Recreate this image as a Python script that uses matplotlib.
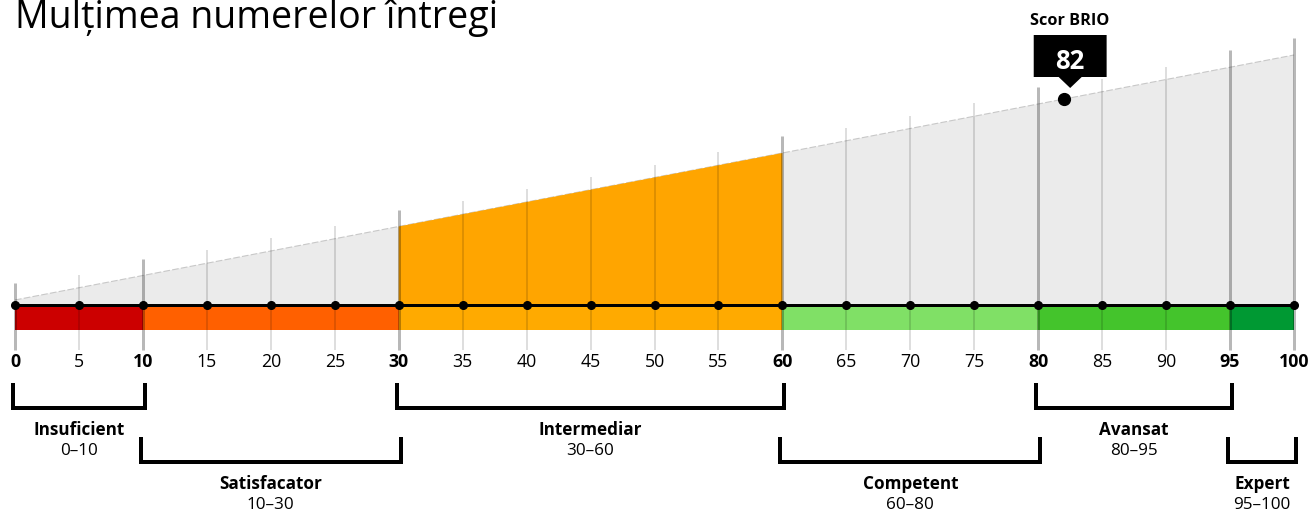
import matplotlib.pyplot as plt
from matplotlib.patches import Polygon

plt.rcParams['font.family'] = ['Open Sans', 'DejaVu Sans']

title = "Mulțimea numerelor întregi"
score = 82
score_label = "Scor BRIO"

ticks = list(range(0, 101, 5))
major_ticks = [0, 10, 30, 60, 80, 95, 100]

level_names = ["Insuficient", "Satisfacator", "Intermediar", "Competent", "Avansat", "Expert"]
level_lo = [0, 10, 30, 60, 80, 95]
level_hi = [10, 30, 60, 80, 95, 100]
level_colors = ["#cc0000", "#ff6000", "#ffaa00", "#80e066", "#44c42c", "#009933"]
highlight_level = 2  # Intermediar

# vertical layout in pixels, converted to data units
PX_PER_Y = 2.45
BASE = 300


def ypx(p):
    return (BASE - p) / PX_PER_Y


fig = plt.figure(figsize=(13.12, 5.13), dpi=100)
ax = fig.add_axes([0, 0, 1, 1])
ax.set_xlim(-15 / 12.79, 100 + 18 / 12.79)
ax.set_ylim(ypx(513), ypx(0))
ax.axis('off')

axis_y = ypx(305)

# grey wedge
ax.add_patch(Polygon([(0, axis_y), (0, 0), (100, 100), (100, axis_y)],
                     closed=True, fc="#ebebeb", ec="none", zorder=1))
ax.plot([0, 100], [0, 100], color="#c8c8c8", lw=0.8, ls=(0, (6, 2)), zorder=1.5)

# highlighted part of the wedge
lo, hi = level_lo[highlight_level], level_hi[highlight_level]
ax.add_patch(Polygon([(lo, axis_y), (lo, lo), (hi, hi), (hi, axis_y)],
                     closed=True, fc="#ffa500", ec="none", zorder=2))

# colour band under the axis
for l, h, c in zip(level_lo, level_hi, level_colors):
    ax.fill_between([l, h], ypx(307), ypx(330), color=c, lw=0, zorder=2)

# grid lines
for t in ticks:
    if t in major_ticks:
        ax.plot([t, t], [ypx(350), t + 17 / PX_PER_Y], color="black", alpha=0.28,
                lw=3 * 0.72, solid_capstyle='butt', zorder=3)
    else:
        ax.plot([t, t], [ypx(350), t + 13 / PX_PER_Y], color="black", alpha=0.13,
                lw=2 * 0.72, solid_capstyle='butt', zorder=3)

# axis line and dots
ax.plot([0, 100], [axis_y, axis_y], color="black", lw=3 * 0.72, zorder=4)
ax.plot(ticks, [axis_y] * len(ticks), 'o', color="black", ms=5.5, zorder=5)

# tick labels
for t in ticks:
    ax.text(t, ypx(362), str(t), ha='center', va='center', fontsize=12.8,
            fontweight='bold' if t in major_ticks else 'normal', color="black")

# brackets with labels
for i, (name, l, h) in enumerate(zip(level_names, level_lo, level_hi)):
    row = i % 2
    top = 385 + row * 54
    bot = 408 + row * 54
    ax.plot([l - 0.15, l - 0.15, h + 0.15, h + 0.15],
            [ypx(top), ypx(bot), ypx(bot), ypx(top)],
            color="black", lw=4 * 0.72, solid_joinstyle='miter', zorder=4)
    ax.text((l + h) / 2, ypx(bot + 22), name, ha='center', va='center',
            fontsize=12.3, fontweight='bold')
    ax.text((l + h) / 2, ypx(bot + 43), f"{l}–{h}", ha='center', va='center',
            fontsize=12.3)

# score marker
ax.plot([score], [score], 'o', color="black", ms=8.5, zorder=6)
bx0, bx1 = score - 2.35, score + 3.35
bxc = (bx0 + bx1) / 2
ax.add_patch(Polygon([(bx0, ypx(35)), (bx1, ypx(35)), (bx1, ypx(77)),
                      (bxc + 0.9, ypx(77)), (bxc, ypx(88)), (bxc - 0.9, ypx(77)),
                      (bx0, ypx(77))], closed=True, fc="black", ec="none", zorder=6))
ax.text(bxc, ypx(61), str(score), ha='center', va='center', fontsize=18.5,
        fontweight='bold', color="white", zorder=7)
ax.text(bxc, ypx(21), score_label, ha='center', va='center', fontsize=11.7,
        fontweight='bold', color="black")

# title
fig.text(15 / 1312, 1 - 18 / 513, title, ha='left', va='center', fontsize=27)

fig.savefig("out.png", dpi=100)
